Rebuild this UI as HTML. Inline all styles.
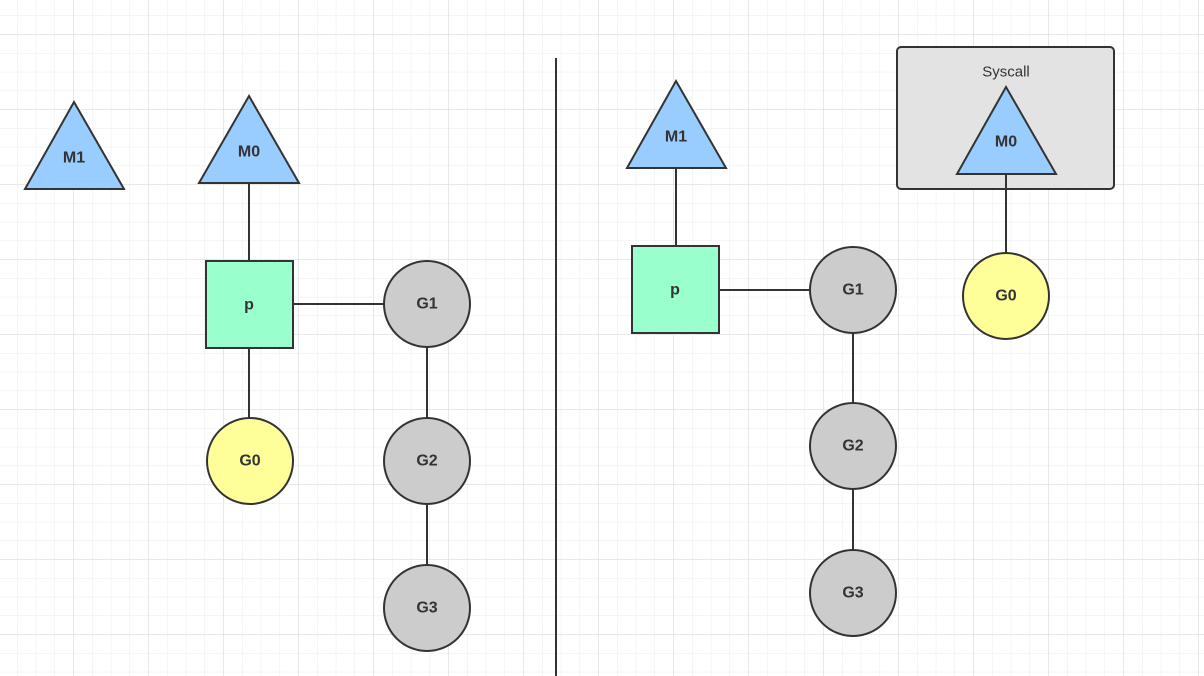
<!DOCTYPE html>
<html><head><style>
html,body{margin:0;padding:0;background:#fff}
svg{display:block}
text{font-family:"Liberation Sans",sans-serif;font-weight:bold;font-size:16px;fill:#333;text-anchor:middle;dominant-baseline:central}
</style></head><body>
<svg width="1204" height="676" viewBox="0 0 1204 676" xmlns="http://www.w3.org/2000/svg">
<defs>
<pattern id="minor" x="-1.7" y="-3.2" width="18.75" height="18.75" patternUnits="userSpaceOnUse">
<path d="M0 0H18.75M0 0V18.75" stroke="#ebebeb" stroke-width="1" fill="none"/>
</pattern>
<pattern id="major" x="-1.7" y="34.3" width="75" height="75" patternUnits="userSpaceOnUse">
<path d="M0 0H75M0 0V75" stroke="#dcdcdc" stroke-width="1" fill="none"/>
</pattern>
</defs>
<rect width="1204" height="676" fill="url(#minor)"/>
<rect width="1204" height="676" fill="url(#major)"/>
<g stroke="#333" stroke-width="2" fill="none">
<line x1="556" y1="58" x2="556" y2="676"/>
<line x1="249" y1="183" x2="249" y2="261"/>
<line x1="249" y1="348" x2="249" y2="418"/>
<line x1="293" y1="304" x2="384" y2="304"/>
<line x1="427" y1="347" x2="427" y2="418"/>
<line x1="427" y1="504" x2="427" y2="565"/>
<line x1="676" y1="168" x2="676" y2="246"/>
<line x1="719" y1="290" x2="810" y2="290"/>
<line x1="853" y1="333" x2="853" y2="403"/>
<line x1="853" y1="489" x2="853" y2="550"/>
</g>
<g stroke="#333" stroke-width="2">
<rect x="897" y="47" width="217" height="142" rx="4" fill="#e3e3e3"/>
<line x1="1006" y1="174" x2="1006" y2="253"/>
<polygon points="25,189 124,189 74,102" fill="#99ccff"/>
<polygon points="199,183 299,183 249,96" fill="#99ccff"/>
<polygon points="627,168 726,168 676,81" fill="#99ccff"/>
<polygon points="957,174 1056,174 1006,87" fill="#99ccff"/>
<rect x="206" y="261" width="87" height="87" fill="#99ffcc"/>
<rect x="632" y="246" width="87" height="87" fill="#99ffcc"/>
<circle cx="427" cy="304" r="43" fill="#cccccc"/>
<circle cx="427" cy="461" r="43" fill="#cccccc"/>
<circle cx="427" cy="608" r="43" fill="#cccccc"/>
<circle cx="250" cy="461" r="43" fill="#ffff99"/>
<circle cx="853" cy="290" r="43" fill="#cccccc"/>
<circle cx="853" cy="446" r="43" fill="#cccccc"/>
<circle cx="853" cy="593" r="43" fill="#cccccc"/>
<circle cx="1006" cy="296" r="43" fill="#ffff99"/>
</g>
<text x="74" y="158">M1</text>
<text x="249" y="152">M0</text>
<text x="676" y="137">M1</text>
<text x="1006" y="142">M0</text>
<text x="1006" y="72" style="font-weight:normal;font-size:15px">Syscall</text>
<text x="249" y="305">p</text>
<text x="675" y="290">p</text>
<text x="427" y="304">G1</text>
<text x="427" y="461">G2</text>
<text x="427" y="608">G3</text>
<text x="250" y="461">G0</text>
<text x="853" y="290">G1</text>
<text x="853" y="446">G2</text>
<text x="853" y="593">G3</text>
<text x="1006" y="296">G0</text>
</svg>
</body></html>
